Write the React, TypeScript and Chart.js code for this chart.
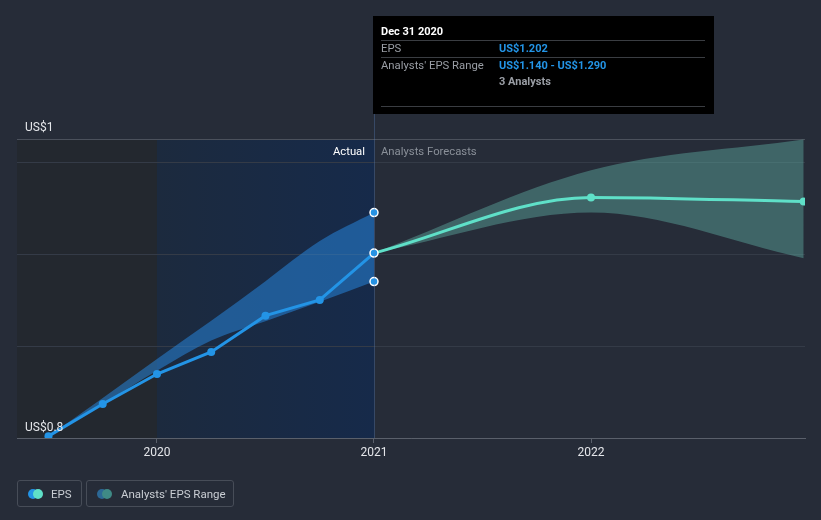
import React, { useEffect, useRef } from "react";
import { Chart, registerables } from "chart.js";

Chart.register(...registerables);

// ---- data ----
const histYears = [2019.5, 2019.75, 2020, 2020.25, 2020.5, 2020.75, 2021];
const histEps = [0.804, 0.874, 0.939, 0.987, 1.066, 1.1, 1.202];
const histLow = [0.804, 0.874, 0.946, 1.012, 1.054, 1.096, 1.14];
const histHigh = [0.804, 0.887, 0.972, 1.055, 1.141, 1.228, 1.29];

const fcYears = [2021, 2022, 2022.98];
const fcEps = [1.202, 1.323, 1.314];
const fcLow = [1.202, 1.29, 1.191];
const fcHigh = [1.202, 1.382, 1.449];

const xTicks = [2020, 2021, 2022];
const yTicks = [0.8, 1.0, 1.2, 1.4, 1.45];
const yLabelTop = "US$1";
const yLabelBottom = "US$0.8";
const xMin = 2019.355;
const xMax = 2022.986;
const yMin = 0.8;
const yMax = 1.45;
const splitYear = 2021;
const shadeStartYear = 2020;

const tipTitle = "Dec 31 2020";
const tipRow1Label = "EPS";
const tipRow1Value = "US$1.202";
const tipRow2Label = "Analysts' EPS Range";
const tipRow2Value = "US$1.140 - US$1.290";
const tipRow3Value = "3 Analysts";

const legendItems = ["EPS", "Analysts' EPS Range"];

const FONT = "Roboto, 'Open Sans', sans-serif";
const BG = "#262c38";
const BLUE = "#2394e6";
const TEAL = "#5fe0c8";

export default function App() {
  const ref = useRef<HTMLCanvasElement | null>(null);

  useEffect(() => {
    document.body.style.margin = "0";
    document.body.style.background = BG;
    const pts = (xs: number[], ys: number[]) => xs.map((x, i) => ({ x, y: ys[i] }));
    const lastHist = histYears.length - 1;

    const bgPlugin = {
      id: "bgPlugin",
      beforeDraw(chart: any) {
        const { ctx, chartArea, scales } = chart;
        const xs = scales.x;
        ctx.save();
        ctx.fillStyle = BG;
        ctx.fillRect(0, 0, chart.width, chart.height);
        const x0 = chartArea.left;
        const x1 = xs.getPixelForValue(shadeStartYear);
        const x2 = xs.getPixelForValue(splitYear);
        ctx.fillStyle = "#23282f";
        ctx.fillRect(x0, chartArea.top, x1 - x0, chartArea.bottom - chartArea.top);
        const g = ctx.createLinearGradient(x1, 0, x2, 0);
        g.addColorStop(0, "#1c2a3e");
        g.addColorStop(1, "#162a4a");
        ctx.fillStyle = g;
        ctx.fillRect(x1, chartArea.top, x2 - x1, chartArea.bottom - chartArea.top);
        ctx.restore();
      },
      afterDatasetsDraw(chart: any) {
        const { ctx, chartArea, scales } = chart;
        const x2 = Math.round(scales.x.getPixelForValue(splitYear)) + 0.5;
        ctx.save();
        ctx.strokeStyle = "rgba(90,130,190,0.35)";
        ctx.lineWidth = 1;
        ctx.beginPath();
        ctx.moveTo(x2, 114);
        ctx.lineTo(x2, chartArea.bottom);
        ctx.stroke();
        ctx.restore();
      },
      afterDraw(chart: any) {
        const { ctx, chartArea, scales } = chart;
        const xs = scales.x;
        const x2 = xs.getPixelForValue(splitYear);
        ctx.save();
        // y labels
        ctx.font = `12px ${FONT}`;
        ctx.fillStyle = "#e4e6ea";
        ctx.textBaseline = "middle";
        ctx.textAlign = "left";
        ctx.fillText(yLabelTop, chartArea.left + 8, chartArea.top - 11);
        ctx.fillText(yLabelBottom, chartArea.left + 8, chartArea.bottom - 10);
        // section labels
        ctx.font = `11.3px ${FONT}`;
        ctx.textAlign = "right";
        ctx.fillStyle = "#ffffff";
        ctx.fillText("Actual", x2 - 9, chartArea.top + 13);
        ctx.textAlign = "left";
        ctx.fillStyle = "#8a9099";
        ctx.fillText("Analysts Forecasts", x2 + 7, chartArea.top + 13);

        // tooltip box
        const L = Math.round(x2) - 1;
        const T = 16;
        const W = 341;
        const H = 98;
        ctx.fillStyle = "#000000";
        ctx.fillRect(L, T, W, H);
        ctx.strokeStyle = "#3a3d42";
        ctx.lineWidth = 1;
        const hl = (y: number) => {
          ctx.beginPath();
          ctx.moveTo(L + 8, y + 0.5);
          ctx.lineTo(L + W - 9, y + 0.5);
          ctx.stroke();
        };
        hl(T + 24);
        hl(T + 41);
        hl(T + 90);
        ctx.textBaseline = "middle";
        ctx.textAlign = "left";
        ctx.font = `bold 11px ${FONT}`;
        ctx.fillStyle = "#ffffff";
        ctx.fillText(tipTitle, L + 8, T + 16);
        ctx.font = `11.3px ${FONT}`;
        ctx.fillStyle = "#9a9ea5";
        ctx.fillText(tipRow1Label, L + 8, T + 33);
        ctx.fillText(tipRow2Label, L + 8, T + 50);
        ctx.font = `bold 11px ${FONT}`;
        ctx.fillStyle = BLUE;
        ctx.fillText(tipRow1Value, L + 126, T + 33);
        ctx.fillText(tipRow2Value, L + 126, T + 50);
        ctx.fillStyle = "#9a9ea5";
        ctx.fillText(tipRow3Value, L + 126, T + 66);
        ctx.restore();
      },
    };

    const chart = new Chart(ref.current as HTMLCanvasElement, {
      type: "line",
      data: {
        datasets: [
          {
            label: "histLow",
            data: pts(histYears, histLow),
            borderWidth: 0,
            borderColor: "rgba(0,0,0,0)",
            pointRadius: (c: any) => (c.dataIndex === lastHist ? 4 : 0),
            pointBackgroundColor: BLUE,
            pointBorderColor: "#ffffff",
            pointBorderWidth: 1.5,
            cubicInterpolationMode: "monotone",
            fill: false,
            order: 3,
          },
          {
            label: "histHigh",
            data: pts(histYears, histHigh),
            borderWidth: 0,
            borderColor: "rgba(0,0,0,0)",
            backgroundColor: "rgba(40,140,232,0.5)",
            pointRadius: (c: any) => (c.dataIndex === lastHist ? 4 : 0),
            pointBackgroundColor: BLUE,
            pointBorderColor: "#ffffff",
            pointBorderWidth: 1.5,
            cubicInterpolationMode: "monotone",
            fill: "-1",
            order: 3,
          },
          {
            label: "fcLow",
            data: pts(fcYears, fcLow),
            borderWidth: 0,
            borderColor: "rgba(0,0,0,0)",
            pointRadius: 0,
            cubicInterpolationMode: "monotone",
            fill: false,
            order: 4,
          },
          {
            label: "fcHigh",
            data: pts(fcYears, fcHigh),
            borderWidth: 0,
            borderColor: "rgba(0,0,0,0)",
            backgroundColor: "rgba(98,182,170,0.42)",
            pointRadius: 0,
            cubicInterpolationMode: "monotone",
            fill: "-1",
            order: 4,
          },
          {
            label: "EPS forecast",
            data: pts(fcYears, fcEps),
            borderColor: TEAL,
            borderWidth: 3,
            pointRadius: (c: any) => (c.dataIndex === 0 ? 0 : 4),
            pointBackgroundColor: TEAL,
            pointBorderWidth: 0,
            cubicInterpolationMode: "monotone",
            fill: false,
            order: 1,
          },
          {
            label: "EPS",
            data: pts(histYears, histEps),
            borderColor: BLUE,
            borderWidth: 3,
            pointRadius: 4,
            pointBackgroundColor: BLUE,
            pointBorderColor: (c: any) => (c.dataIndex === lastHist ? "#ffffff" : BLUE),
            pointBorderWidth: (c: any) => (c.dataIndex === lastHist ? 1.5 : 0),
            tension: 0,
            fill: false,
            order: 0,
          },
        ],
      },
      options: {
        responsive: false,
        animation: false,
        devicePixelRatio: 1,
        layout: { padding: { left: 17, right: 16, top: 139, bottom: 0 } },
        plugins: {
          legend: { display: false },
          tooltip: { enabled: false },
        },
        scales: {
          x: {
            type: "linear",
            min: xMin,
            max: xMax,
            afterBuildTicks: (s: any) => {
              s.ticks = xTicks.map((v) => ({ value: v }));
            },
            afterFit: (s: any) => {
              s.height = 82;
            },
            grid: {
              drawOnChartArea: false,
              drawTicks: true,
              tickLength: 5,
              color: "#5a606b",
            },
            border: { display: true, color: "#5a606b", width: 1 },
            ticks: {
              color: "#e4e6ea",
              font: { family: FONT, size: 12 },
              padding: 3,
              maxRotation: 0,
              callback: (v: any) => String(v),
            },
          },
          y: {
            type: "linear",
            min: yMin,
            max: yMax,
            afterBuildTicks: (s: any) => {
              s.ticks = yTicks.map((v) => ({ value: v }));
            },
            afterFit: (s: any) => {
              s.width = 0;
            },
            border: { display: false },
            grid: {
              drawTicks: false,
              color: (c: any) => {
                const v = c.tick ? c.tick.value : 0;
                if (v === yMax || v === yMin) return "#4b515c";
                return "#343b47";
              },
            },
            ticks: { display: false },
          },
        },
      },
      plugins: [bgPlugin],
    } as any);
    return () => chart.destroy();
  }, []);

  const box: React.CSSProperties = {
    position: "absolute",
    top: 480,
    height: 27,
    boxSizing: "border-box",
    border: "1px solid #474d58",
    borderRadius: 3,
    display: "flex",
    alignItems: "center",
    color: "#c9cdd3",
    fontSize: 11.5,
    fontFamily: FONT,
  };
  const dot = (c: string, left: number): React.CSSProperties => ({
    position: "absolute",
    left,
    top: 8,
    width: 10,
    height: 10,
    borderRadius: 5,
    background: c,
  });

  return (
    <div style={{ position: "relative", width: 821, height: 520, background: BG }}>
      <canvas ref={ref} width={821} height={520} style={{ display: "block", width: 821, height: 520 }} />
      <div style={{ ...box, left: 17, width: 65 }}>
        <span style={dot(BLUE, 10)} />
        <span style={dot(TEAL, 15)} />
        <span style={{ position: "absolute", left: 33 }}>{legendItems[0]}</span>
      </div>
      <div style={{ ...box, left: 86, width: 148 }}>
        <span style={dot("#2c6896", 10)} />
        <span style={dot("#3f8a86", 15)} />
        <span style={{ position: "absolute", left: 34 }}>{legendItems[1]}</span>
      </div>
    </div>
  );
}
